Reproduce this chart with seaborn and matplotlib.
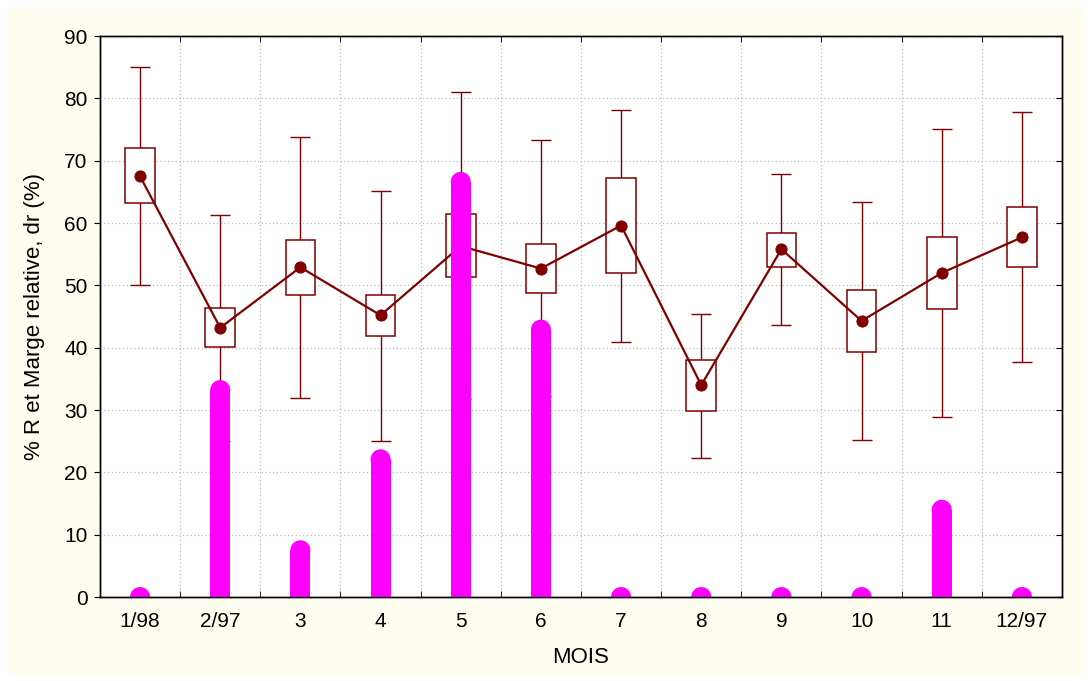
import numpy as np
import pandas as pd
import seaborn as sns
from matplotlib import pyplot as plt
from matplotlib.patches import Rectangle

# values
mois = ['1/98', '2/97', '3', '4', '5', '6', '7', '8', '9', '10', '11', '12/97']
moyenne = [67.5, 43.2, 52.9, 45.2, 56.3, 52.7, 59.6, 34.0, 55.8, 44.3, 52.0, 57.7]
boite_haut = [72.0, 46.4, 57.3, 48.5, 61.4, 56.7, 67.2, 38.0, 58.4, 49.3, 57.8, 62.5]
boite_bas = [63.2, 40.1, 48.4, 41.9, 51.4, 48.8, 52.0, 29.8, 53.0, 39.3, 46.2, 52.9]
moust_haut = [85.0, 61.3, 73.8, 65.2, 81.1, 73.3, 78.2, 45.4, 67.8, 63.3, 75.1, 77.8]
moust_bas = [50.1, 25.1, 32.0, 25.1, 31.8, 32.2, 40.9, 22.3, 43.6, 25.2, 28.9, 37.7]
pct_r = [0, 33.2, 7.5, 22.1, 66.6, 42.9, 0, 0, 0, 0, 14.0, 0]

df = pd.DataFrame({'pos': np.arange(len(mois)), 'mois': mois, 'moy': moyenne,
                   'bh': boite_haut, 'bb': boite_bas, 'mh': moust_haut,
                   'mb': moust_bas, 'r': pct_r})

sns.set_style('white')
plt.rcParams['font.family'] = ['Liberation Sans', 'DejaVu Sans']
plt.rcParams['text.color'] = 'black'
plt.rcParams['axes.labelcolor'] = 'black'
plt.rcParams['xtick.color'] = 'black'
plt.rcParams['ytick.color'] = 'black'

rouge = '#800000'
fig = plt.figure(figsize=(10.9, 6.81), dpi=100, facecolor='white')
fig.patches.append(Rectangle((0.006, 0.009), 0.988, 0.981, transform=fig.transFigure,
                             facecolor='#fffcf0', edgecolor='none', zorder=-10))
ax = fig.add_axes([0.0917, 0.1233, 0.8826, 0.8238])
ax.set_facecolor('white')

# whiskers
ax.vlines(df['pos'], df['mb'], df['mh'], color=rouge, lw=1.0, zorder=2)
ax.hlines(df['mh'], df['pos'] - 0.125, df['pos'] + 0.125, color=rouge, lw=1.0, zorder=2)
ax.hlines(df['mb'], df['pos'] - 0.125, df['pos'] + 0.125, color=rouge, lw=1.0, zorder=2)
# boxes
ax.bar(df['pos'], df['bh'] - df['bb'], bottom=df['bb'], width=0.37,
       facecolor='white', edgecolor=rouge, lw=1.1, zorder=3)
# means
sns.lineplot(data=df, x='pos', y='moy', ax=ax, color=rouge, lw=1.6, marker='o',
             markersize=8, markeredgecolor=rouge, zorder=4)
# % R bars
ax.vlines(df['pos'], 0, df['r'], color='#ff00ff', lw=14.4, zorder=5)
sns.scatterplot(data=df, x='pos', y='r', ax=ax, color='#ff00ff', s=14.4 ** 2,
                edgecolor='none', zorder=5, clip_on=True)

ax.set_xlim(-0.5, len(mois) - 0.5)
ax.set_ylim(0, 90)
ax.set_xticks(df['pos'])
ax.set_xticklabels(mois)
ax.set_xticks(np.arange(-0.5, len(mois), 1), minor=True)
ax.set_yticks(np.arange(0, 91, 10))
ax.tick_params(axis='x', which='major', length=0, labelsize=15, pad=11)
ax.tick_params(axis='x', which='minor', direction='in', length=4, top=True, bottom=True)
ax.tick_params(axis='y', which='major', direction='out', length=4, labelsize=15, pad=5)
ax.grid(True, axis='y', which='major', color='#b8b8b8', ls=(0, (1, 2)), lw=0.9)
ax.grid(True, axis='x', which='minor', color='#b8b8b8', ls=(0, (1, 2)), lw=0.9)
ax.set_axisbelow(True)

ax2 = ax.twinx()
ax2.set_ylim(0, 90)
ax2.set_yticks(np.arange(0, 91, 10))
ax2.tick_params(axis='y', direction='in', length=4, labelright=False)

for a in (ax, ax2):
    for s in a.spines.values():
        s.set_color('black')
        s.set_linewidth(1.0)

ax.set_xlabel('MOIS', fontsize=16, labelpad=11)
ax.set_ylabel('% R et Marge relative, dr (%)', fontsize=16, labelpad=14)

fig.savefig('out.png', dpi=100, facecolor=fig.get_facecolor())
